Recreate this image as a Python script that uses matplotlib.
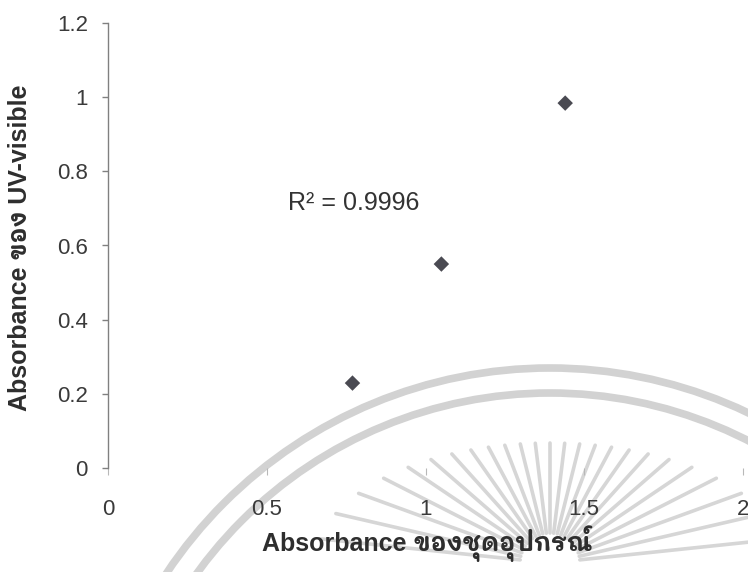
import numpy as np
import matplotlib
matplotlib.use("Agg")
import matplotlib.pyplot as plt
from matplotlib.patches import Arc

# absorbance measured with the device vs. UV-visible spectrophotometer
device_abs = [0.77, 1.05, 1.44]
uvvis_abs = [0.229, 0.550, 0.984]
r2_text = "R² = 0.9996"

x_ticks = [0, 0.5, 1, 1.5, 2]
x_ticklabels = ["0", "0.5", "1", "1.5", "2"]
y_ticks = [0, 0.2, 0.4, 0.6, 0.8, 1, 1.2]
y_ticklabels = ["0", "0.2", "0.4", "0.6", "0.8", "1", "1.2"]

xlabel = "Absorbance ของชุดอุปกรณ์"
ylabel = "Absorbance ของ UV-visible"

FONTS = ["Liberation Sans", "Mali", "DejaVu Sans"]
plt.rcParams["font.family"] = FONTS

W, H = 748, 572
fig = plt.figure(figsize=(W / 100, H / 100), dpi=100)

# faint seal printed behind the page (pixel coordinates, y down)
bg = fig.add_axes([0, 0, 1, 1], zorder=-1)
bg.set_xlim(0, W)
bg.set_ylim(H, 0)
bg.axis("off")
seal_c = (550, 829)
for rad in [461, 436]:
    bg.add_patch(Arc(seal_c, 2 * rad, 2 * rad, theta1=180, theta2=360,
                     color="#d2d2d2", lw=5.5))
sun_c = (550, 563)
for ang in np.arange(-84, 85, 7):
    t = np.radians(ang)
    r_out = 1 / np.sqrt((np.cos(t) / 120) ** 2 + (np.sin(t) / 235) ** 2)
    r_in = 30
    bg.plot([sun_c[0] + r_in * np.sin(t), sun_c[0] + r_out * np.sin(t)],
            [sun_c[1] - r_in * np.cos(t), sun_c[1] - r_out * np.cos(t)],
            color="#d6d6d6", lw=2.6, solid_capstyle="round")

ax = fig.add_axes([108 / W, (H - 468) / H, 635 / W, 445 / H])
ax.patch.set_alpha(0)

ax.scatter(device_abs, uvvis_abs, marker="D", s=62, color="#4a4a52",
           edgecolors="none", zorder=3)

ax.text(0.567, 0.715, r2_text, fontsize=18, color="#333333", va="center")

ax.set_xlim(0, 2)
ax.set_ylim(0, 1.2)
ax.set_xticks(x_ticks)
ax.set_xticklabels(x_ticklabels)
ax.set_yticks(y_ticks)
ax.set_yticklabels(y_ticklabels)

for side in ["top", "right", "bottom"]:
    ax.spines[side].set_visible(False)
ax.spines["left"].set_color("#808080")
ax.spines["left"].set_linewidth(1.0)

ax.tick_params(axis="y", direction="out", length=4.5, width=1.0,
               color="#808080", pad=10, labelsize=16, labelcolor="#3a3a3a")
ax.tick_params(axis="x", direction="out", length=5, width=0.8,
               color="#b8b8b8", pad=17, labelsize=16, labelcolor="#3a3a3a")

ax.set_xlabel(xlabel, fontsize=18, fontweight="bold", color="#2e2e2e", va="center")
ax.xaxis.set_label_coords(0.503, -0.169)
ax.set_ylabel(ylabel, fontsize=18, fontweight="bold", color="#2e2e2e", va="center")
ax.yaxis.set_label_coords(-0.139, 0.494)

fig.savefig("out.png", dpi=100)
